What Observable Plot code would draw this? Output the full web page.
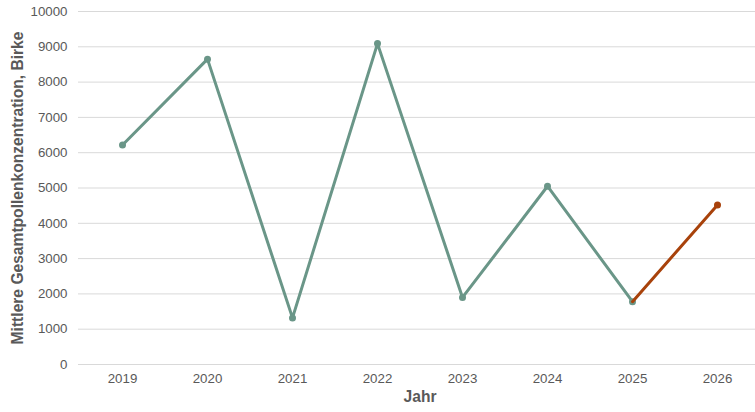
<!DOCTYPE html>
<html><head><meta charset="utf-8">
<script src="https://cdn.jsdelivr.net/npm/d3@7"></script>
<script src="https://cdn.jsdelivr.net/npm/@observablehq/plot@0.6"></script>
<style>html,body{margin:0;padding:0;background:#fff;overflow:hidden;width:755px;height:412px}</style>
</head><body><div id="chart"></div>
<script>
const years = ["2019", "2020", "2021", "2022", "2023", "2024", "2025", "2026"];
const observedYears = ["2019", "2020", "2021", "2022", "2023", "2024", "2025"];
const observedValues = [6220, 8650, 1320, 9090, 1900, 5050, 1780];
const forecastYears = ["2025", "2026"];
const forecastValues = [1780, 4520];
const yTicks = [0, 1000, 2000, 3000, 4000, 5000, 6000, 7000, 8000, 9000, 10000];
const yTitle = "Mittlere Gesamtpollenkonzentration, Birke";
const xTitle = "Jahr";

const observed = observedYears.map((y, i) => ({year: y, value: observedValues[i]}));
const forecast = forecastYears.map((y, i) => ({year: y, value: forecastValues[i]}));
const green = "#6a9688";
const orange = "#a8420b";

const chart = Plot.plot({
  width: 755,
  height: 412,
  marginLeft: 78,
  marginRight: -6,
  marginTop: 11,
  marginBottom: 48,
  style: {fontFamily: "'Liberation Sans', Arial, sans-serif", fontSize: "13.3px", color: "#595959", background: "#fff"},
  x: {type: "point", domain: years, padding: 0.5},
  y: {domain: [0, 10000]},
  marks: [
    Plot.gridY(yTicks, {stroke: "#d9d9d9", strokeOpacity: 1, strokeWidth: 1}),
    Plot.axisY(yTicks, {tickSize: 0, tickPadding: 11, label: null, fill: "#595959", tickFormat: d => String(d)}),
    Plot.axisX({tickSize: 0, tickPadding: 9, label: null, fill: "#595959"}),
    Plot.text([yTitle], {frameAnchor: "left", rotate: -90, dx: -61, fontWeight: "bold", fontSize: 15.6, fill: "#595959", textAnchor: "middle"}),
    Plot.text([xTitle], {frameAnchor: "bottom", dy: 37, fontWeight: "bold", fontSize: 15.6, fill: "#595959"}),
    Plot.line(observed, {x: "year", y: "value", stroke: green, strokeWidth: 3}),
    Plot.dot(observed, {x: "year", y: "value", fill: green, r: 3.5}),
    Plot.line(forecast, {x: "year", y: "value", stroke: orange, strokeWidth: 3}),
    Plot.dot(forecast.slice(1), {x: "year", y: "value", fill: orange, r: 3.5})
  ]
});
document.getElementById("chart").appendChild(chart);
</script></body></html>
